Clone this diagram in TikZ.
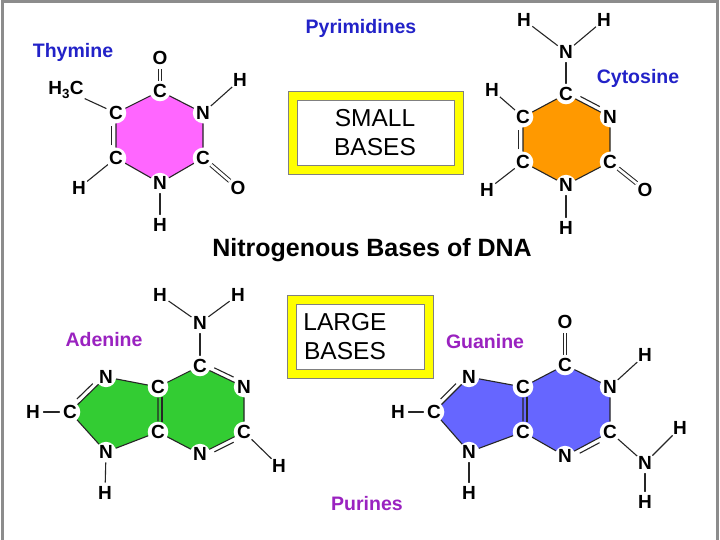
\documentclass[tikz,border=0pt]{standalone}
\usepackage{fontspec}
\setmainfont{Liberation Sans}
\usetikzlibrary{calc}
\pgfdeclarelayer{bg}
\pgfdeclarelayer{back}
\pgfsetlayers{back,bg,main}
\definecolor{lblue}{HTML}{2222C8}
\definecolor{lpurp}{HTML}{9A22C0}
\definecolor{fmag}{HTML}{FF66FF}
\definecolor{fora}{HTML}{FF9900}
\definecolor{fgrn}{HTML}{33CC33}
\definecolor{fblu}{HTML}{6666FF}
\definecolor{ybox}{HTML}{FFFF00}
\tikzset{
 atm/.style={circle,fill=white,inner sep=0.5pt,minimum size=20pt,font=\bfseries\fontsize{19}{19}\selectfont},
 bond/.style={line width=1.1pt,black!85},
 dbl/.style={double=white,double distance=2.6pt,line width=1pt,black!85},
 title/.style={font=\bfseries\fontsize{19.5}{20}\selectfont},
 boxtxt/.style={font=\fontsize{24.5}{29}\selectfont,align=center},
 ybx/.style={draw=black!50,line width=0.6pt,fill=ybox},
}
\newcommand{\inner}[3]{\draw[bond] ($(#1.center)!0.28!(#2.center)!4.5pt!#3:(#2.center)$) -- ($(#1.center)!0.72!(#2.center)!4.5pt!#3:(#2.center)$);}
\begin{document}
\begin{tikzpicture}[x=1pt,y=-1pt]
\useasboundingbox (0,0) rectangle (720,540);
\begin{pgfonlayer}{back}
\fill[white] (0,0) rectangle (720,540);
\end{pgfonlayer}
\draw[black!45,line width=3pt] (2,540) -- (2,2) -- (717,2) -- (717,540);

% titles
\node[title,text=lblue] (pyr) at (361,28) {Pyrimidines};
\node[font=\bfseries\fontsize{25}{25}\selectfont] (tit) at (372,250) {Nitrogenous Bases of DNA};
\node[title,text=lpurp] (pur) at (367,504) {Purines};
\node[title,text=lblue] (tl) at (73,52) {Thymine};
\node[title,text=lblue] (cl) at (638,78) {Cytosine};
\node[title,text=lpurp] (al) at (104,340) {Adenine};
\node[title,text=lpurp] (gl) at (485,342) {Guanine};

% boxes
\draw[ybx] (288,91) rectangle (463,174);
\fill[white,draw=black!50,line width=0.6pt] (297,100) rectangle (454,165);
\node[boxtxt] (sb) at (375,133) {SMALL\\BASES};
\draw[ybx] (287,295) rectangle (433,378);
\fill[white,draw=black!50,line width=0.6pt] (296,304) rectangle (424,369);
\node[boxtxt] (lb) at (345,337) {LARGE\\BASES};

% ---------- Thymine
\node[atm] (t1) at (160,91) {C};
\node[atm] (t2) at (203,113) {N};
\node[atm] (t3) at (203,158) {C};
\node[atm] (t4) at (160,183) {N};
\node[atm] (t5) at (116,158) {C};
\node[atm] (t6) at (116,113) {C};
\node[atm] (tO1) at (160,58) {O};
\node[atm] (tH1) at (240,80) {H};
\node[atm] (tO2) at (238,188) {O};
\node[atm] (tH4) at (160,225) {H};
\node[atm] (tH5) at (79,188) {H};
\node[atm] (tMe) at (66,90) {H$_{\mathbf 3}$C};
\begin{pgfonlayer}{bg}
\fill[fmag] (t1.center)--(t2.center)--(t3.center)--(t4.center)--(t5.center)--(t6.center)--cycle;
\draw[bond] (t1)--(t2)--(t3)--(t4)--(t5)--(t6)--(t1);
\inner{t5}{t6}{90}
\draw[dbl] (t1)--(tO1); \draw[dbl] (t3)--(tO2);
\draw[bond] (t2)--(tH1); \draw[bond] (t4)--(tH4); \draw[bond] (t5)--(tH5); \draw[bond] (t6)--(tMe);
\end{pgfonlayer}

% ---------- Cytosine
\node[atm] (c1) at (566,94) {C};
\node[atm] (c2) at (610,117) {N};
\node[atm] (c3) at (610,162) {C};
\node[atm] (c4) at (566,185) {N};
\node[atm] (c5) at (523,162) {C};
\node[atm] (c6) at (523,117) {C};
\node[atm] (cN) at (566,52) {N};
\node[atm] (cHa) at (524,20) {H};
\node[atm] (cHb) at (604,20) {H};
\node[atm] (cH6) at (492,90) {H};
\node[atm] (cH5) at (487,190) {H};
\node[atm] (cO) at (645,190) {O};
\node[atm] (cH4) at (566,228) {H};
\begin{pgfonlayer}{bg}
\fill[fora] (c1.center)--(c2.center)--(c3.center)--(c4.center)--(c5.center)--(c6.center)--cycle;
\draw[bond] (c1)--(c2)--(c3)--(c4)--(c5)--(c6)--(c1);
\inner{c1}{c2}{90}
\inner{c5}{c6}{90}
\draw[dbl] (c3)--(cO);
\draw[bond] (c1)--(cN); \draw[bond] (cN)--(cHa); \draw[bond] (cN)--(cHb);
\draw[bond] (c6)--(cH6); \draw[bond] (c5)--(cH5); \draw[bond] (c4)--(cH4);
\end{pgfonlayer}

% ---------- Adenine
\node[atm] (a1) at (200,366) {C};
\node[atm] (a2) at (244,387) {N};
\node[atm] (a3) at (244,432) {C};
\node[atm] (a4) at (200,454) {N};
\node[atm] (a5) at (158,432) {C};
\node[atm] (a6) at (158,387) {C};
\node[atm] (a7) at (106,377) {N};
\node[atm] (a8) at (70,412) {C};
\node[atm] (a9) at (106,452) {N};
\node[atm] (aN) at (200,323) {N};
\node[atm] (aHa) at (160,295) {H};
\node[atm] (aHb) at (238,295) {H};
\node[atm] (aH3) at (279,466) {H};
\node[atm] (aH8) at (33,412) {H};
\node[atm] (aH9) at (105,493) {H};
\begin{pgfonlayer}{bg}
\fill[fgrn] (a1.center)--(a2.center)--(a3.center)--(a4.center)--(a5.center)--(a9.center)--(a8.center)--(a7.center)--(a6.center)--cycle;
\draw[bond] (a1)--(a2)--(a3)--(a4)--(a5)--(a6)--(a1);
\draw[bond] (a6)--(a7)--(a8)--(a9)--(a5);
\inner{a1}{a2}{90}
\inner{a3}{a4}{90}
\inner{a7}{a8}{-90}
\draw[bond] ($(a6.south)+(4,0)$)--($(a5.north)+(4,0)$);
\draw[bond] (a1)--(aN); \draw[bond] (aN)--(aHa); \draw[bond] (aN)--(aHb);
\draw[bond] (a3)--(aH3); \draw[bond] (a8)--(aH8); \draw[bond] (a9)--(aH9);
\end{pgfonlayer}

% ---------- Guanine
\node[atm] (g1) at (565,365) {C};
\node[atm] (g2) at (610,387) {N};
\node[atm] (g3) at (610,432) {C};
\node[atm] (g4) at (565,456) {N};
\node[atm] (g5) at (523,432) {C};
\node[atm] (g6) at (523,387) {C};
\node[atm] (g7) at (469,377) {N};
\node[atm] (g8) at (434,412) {C};
\node[atm] (g9) at (469,452) {N};
\node[atm] (gO) at (565,322) {O};
\node[atm] (gH1) at (645,355) {H};
\node[atm] (gN) at (645,463) {N};
\node[atm] (gHa) at (680,428) {H};
\node[atm] (gHb) at (645,502) {H};
\node[atm] (gH8) at (398,412) {H};
\node[atm] (gH9) at (469,493) {H};
\begin{pgfonlayer}{bg}
\fill[fblu] (g1.center)--(g2.center)--(g3.center)--(g4.center)--(g5.center)--(g9.center)--(g8.center)--(g7.center)--(g6.center)--cycle;
\draw[bond] (g1)--(g2)--(g3)--(g4)--(g5)--(g6)--(g1);
\draw[bond] (g6)--(g7)--(g8)--(g9)--(g5);
\inner{g3}{g4}{90}
\inner{g7}{g8}{-90}
\draw[bond] ($(g6.south)+(4,0)$)--($(g5.north)+(4,0)$);
\draw[dbl] (g1)--(gO);
\draw[bond] (g2)--(gH1); \draw[bond] (g3)--(gN); \draw[bond] (gN)--(gHa); \draw[bond] (gN)--(gHb);
\draw[bond] (g8)--(gH8); \draw[bond] (g9)--(gH9);
\end{pgfonlayer}
\end{tikzpicture}
\end{document}
